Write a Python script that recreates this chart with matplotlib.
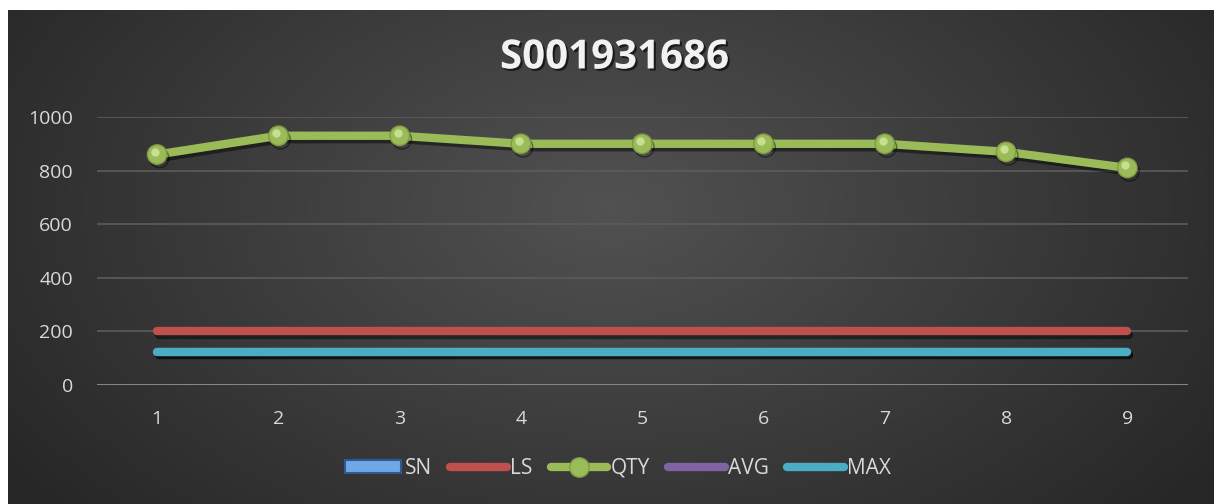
import numpy as np
import matplotlib.pyplot as plt
import matplotlib.patheffects as pe
from matplotlib.transforms import offset_copy
from matplotlib.lines import Line2D
from matplotlib.patches import Patch

title = 'S001931686'
cats = [1, 2, 3, 4, 5, 6, 7, 8, 9]
sn = [0, 0, 0, 0, 0, 0, 0, 0, 0]
ls = [200, 200, 200, 200, 200, 200, 200, 200, 200]
qty = [860, 930, 930, 900, 900, 900, 900, 870, 810]
avg = [125, 125, 125, 125, 125, 125, 125, 125, 125]
mx = [125, 125, 125, 125, 125, 125, 125, 125, 125]

plt.rcParams['font.family'] = ['Open Sans', 'DejaVu Sans']
txt = '#d9d9d9'
c_sn, c_ls, c_qty, c_avg, c_max = '#4F81BD', '#C0504D', '#9BBB59', '#8064A2', '#4BACC6'

fig = plt.figure(figsize=(12.14, 5.04), dpi=100)
fig.patch.set_facecolor('white')

# dark radial background of the chart area
bg = fig.add_axes([8 / 1214, 0, 1206 / 1214, 494 / 504])
bg.set_axis_off()
yy, xx = np.mgrid[0:1:300j, 0:1:600j]
r = np.sqrt(((xx - 0.5) / 0.62) ** 2 + ((yy - 0.6) / 0.95) ** 2)
shade = np.clip(0.32 - 0.17 * r, 0.15, 0.32)
bg.imshow(np.dstack([shade] * 3), aspect='auto', extent=[0, 1, 0, 1], origin='lower')
bg.set_xlim(0, 1)
bg.set_ylim(0, 1)

ax = fig.add_axes([96.5 / 1214, 119 / 504, 1091.5 / 1214, 268 / 504])
ax.patch.set_alpha(0)
for s in ax.spines.values():
    s.set_visible(False)

shadow = [pe.SimpleLineShadow(offset=(1.5, -2.5), shadow_color='black', alpha=0.45), pe.Normal()]

ax.bar(cats, sn, width=0.6, color=c_sn)
ax.plot(cats, ls, color=c_ls, lw=6, solid_capstyle='round', path_effects=shadow, zorder=3)
ax.plot(cats, qty, color=c_qty, lw=6, solid_capstyle='round', marker='o', ms=14,
        mfc=c_qty, mec='#7f9c45', mew=1, path_effects=shadow, zorder=4)
ax.plot(cats, avg, color=c_avg, lw=6, solid_capstyle='round', path_effects=shadow, zorder=3)
ax.plot(cats, mx, color=c_max, lw=6, solid_capstyle='round', path_effects=shadow, zorder=3)
# highlight on the balls
hl = offset_copy(ax.transData, fig=fig, x=-1.5, y=2, units='points')
ax.plot(cats, qty, ls='none', marker='o', ms=6, mfc='#d4e8a0', mec='none', alpha=0.8, transform=hl, zorder=5)

ax.set_xlim(0.5, 9.5)
ax.set_ylim(0, 1000)
ax.set_yticks([0, 200, 400, 600, 800, 1000])
ax.set_xticks(cats)
ax.grid(axis='y', color='#5c5c5c', lw=1.2)
ax.set_axisbelow(True)
ax.axhline(0, color='#8c8c8c', lw=2, zorder=2)
ax.tick_params(length=0, labelsize=14, labelcolor=txt)
ax.tick_params(axis='x', pad=18)
ax.tick_params(axis='y', pad=17)

fig.text(0.506, 0.885, title, ha='center', va='center', fontsize=29, fontweight='bold', color='#f2f2f2',
         path_effects=[pe.withSimplePatchShadow(offset=(1.5, -1.5), shadow_rgbFace='black', alpha=0.6)])

handles = [
    Patch(facecolor='#6fa8e6', edgecolor='#2e5a8f', lw=1.5),
    Line2D([], [], color=c_ls, lw=6, solid_capstyle='round'),
    Line2D([], [], color=c_qty, lw=6, solid_capstyle='round', marker='o', ms=14, mfc=c_qty, mec='#7f9c45'),
    Line2D([], [], color=c_avg, lw=6, solid_capstyle='round'),
    Line2D([], [], color=c_max, lw=6, solid_capstyle='round'),
]
fig.legend(handles, ['SN', 'LS', 'QTY', 'AVG', 'MAX'], loc='center', bbox_to_anchor=(0.509, 0.071), ncol=5,
           frameon=False, fontsize=15, labelcolor=txt, handlelength=2.7, handleheight=0.6,
           handletextpad=0.15, columnspacing=0.9)

fig.savefig('out.png', dpi=100)
